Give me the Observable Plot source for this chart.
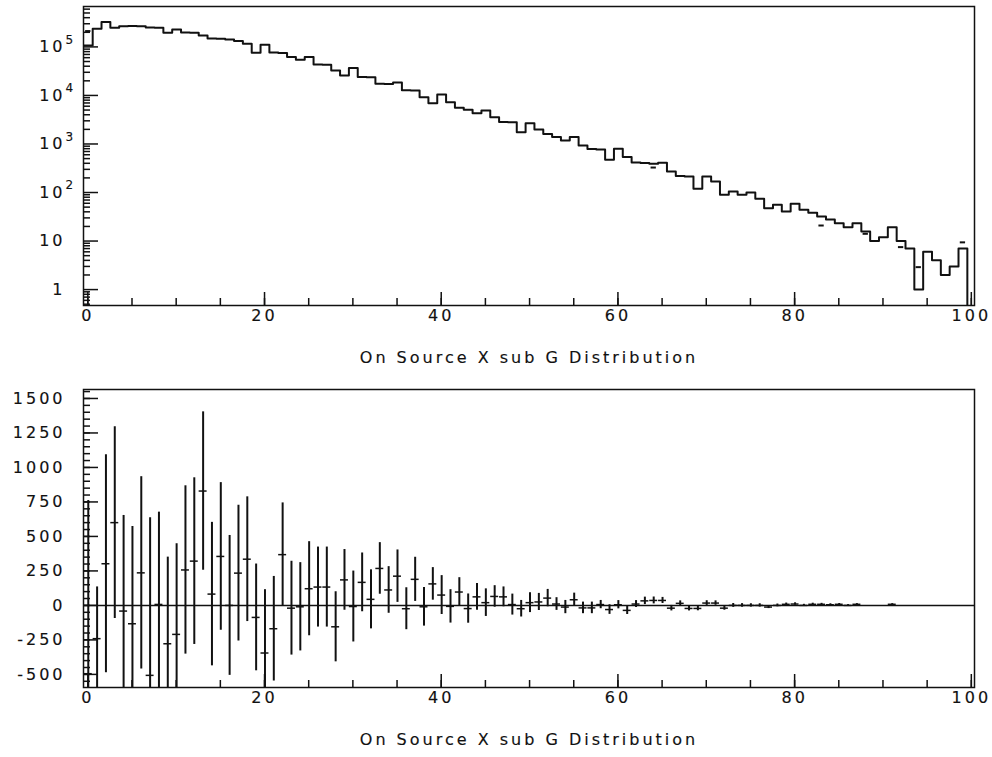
<!DOCTYPE html>
<html><head><meta charset="utf-8">
<script src="https://cdn.jsdelivr.net/npm/d3@7"></script>
<script src="https://cdn.jsdelivr.net/npm/@observablehq/plot@0.6"></script>
<style>
body{margin:0;background:#fff;}
#c{position:relative;width:992px;height:757px;overflow:hidden;}
#c svg{display:block;}
</style></head><body><div id="c"></div>
<script>
// ---------- data ----------
const bins = d3.range(100);
const onCounts = [
 107000,237000,325000,249000,268000,270000,266000,250000,248000,196000,
 229500,197000,195500,172600,149700,147600,142900,133000,116400,75900,
 111000,76500,75300,61700,54400,61700,43200,42700,32750,25840,
 36560,24000,23700,17420,17260,18540,12750,12600,9230,6940,
 10490,7280,5570,5070,4320,4910,3570,2830,2790,1750,
 2685,1991,1607,1394,1181,1394,931,789,771,472,
 796,540,415,406,391,410,271,219,215,119,
 214,169,90,105,90,100,74,47.5,55.7,40.6,
 58.5,44,38.1,32,27.7,23.3,19.3,23.3,15.7,10,
 12,19.3,10,7,1,6,4,2,3,7];
const offMarkBins = [0,64,83,88,92,94,99];
const offMarkVals = [212000,327,20.9,14.1,7.5,2.9,9.4];

const diffBins = [0,1,2,3,4,5,6,7,8,9,10,11,12,13,14,15,16,17,18,19,20,21,22,23,24,25,26,27,28,29,30,31,32,33,34,35,36,37,38,39,40,41,42,43,44,45,46,47,48,49,50,51,52,53,54,55,56,57,58,59,60,61,62,63,64,65,66,67,68,69,70,71,72,73,74,75,76,77,78,79,80,81,82,83,84,85,86,87,91];
const diffVals = [-495,-241,302,600,-41,-133,236,-507,7,-278,-210,257,321,829,82,355,0,234,335,-87,-345,-169,368,-20,-10,121,133,133,-155,185,-8,167,44,268,112,212,-24,189,-10,156,75,-7,97,-23,62,20,65,62,6,-24,20,25,53,10,-12,41,-18,-18,6,-30,5,-36,10,33,36,36,-20,15,-22,-22,17,17,-20,0,0,0,0,-12,0,8,10,0,8,8,5,8,0,8,8];
const diffErrs = [1256,375,790,695,693,705,697,1142,669,628,657,610,604,574,520,535,507,492,452,387,459,379,375,340,320,341,290,290,254,220,257,213,214,187,169,190,152,160,140,118,141,121,104,106,97,100,78,72,76,60,72,62,63,46,48,48,42,42,30,35,30,30,25,27,25,22,20,18,18,17,17,16,15,14,13,12,12,11,10,9,9,8,8,7,7,6,6,5,5];

const xMajor = [0,20,40,60,80,100];
const xMinor = d3.range(0,101,5);
const logMajor = [1,10,100,1000,10000,100000];
const logBase = ["1","10","10","10","10","10"];
const logExp = ["","","2","3","4","5"];
const logMinor = [0.5,0.6,0.7,0.8,0.9].concat(...[1,10,100,1000,10000,100000].map(d => [2,3,4,5,6,7,8,9].map(k => k*d))).filter(v => v < 6.8e5);
const diffMajor = [-500,-250,0,250,500,750,1000,1250,1500];
const diffMinor = d3.range(-550,1551,50);
const axisTitle = "On Source X sub G Distribution";

// ---------- layout ----------
const W = 992, ML = 83, MR = 18;
const frameW = W - ML - MR;
const xDomain = [-0.49, 100.36];
const ink = "#111";
const textStyle = {fontFamily: "DejaVu Sans", fontSize: "16px", letterSpacing: "3px", background: "white", color: ink, overflow: "visible"};
const shift = 0.05;
const txt = {fill: ink, stroke: ink, strokeWidth: 0.15};

function commonMarks(frameH) {
  return [
    Plot.ruleX(xMinor, {x: d => d, insetTop: frameH - 7, stroke: ink, strokeWidth: 1.5}),
    Plot.ruleX(xMajor, {x: d => d, insetTop: frameH - 13, stroke: ink, strokeWidth: 1.5}),
    Plot.text(xMajor, {x: d => d, text: d => String(d), frameAnchor: "bottom", dy: 15, ...txt}),
    Plot.text([axisTitle], {frameAnchor: "bottom", dy: 57, ...txt}),
    Plot.frame({stroke: ink, strokeWidth: 1.5})
  ];
}

// ---------- top panel ----------
const topH = 380, topMT = 6, topMB = 75;
const topFrameH = topH - topMT - topMB;
const stepPts = bins.map(i => ({x: i - 0.5 + shift, y: onCounts[i]}));
stepPts.push({x: 99.5 + shift, y: onCounts[99]});
stepPts.push({x: 99.5 + shift, y: 0.1});

const topPlot = Plot.plot({
  width: W, height: topH,
  marginLeft: ML, marginRight: MR, marginTop: topMT, marginBottom: topMB,
  style: textStyle,
  x: {domain: xDomain, axis: null},
  y: {type: "log", domain: [0.47, 6.8e5], axis: null},
  marks: [
    Plot.line(stepPts, {x: "x", y: "y", curve: "step-after", stroke: ink, strokeWidth: 2, clip: true}),
    Plot.ruleY(offMarkBins, {y: (d, i) => offMarkVals[i], x1: d => d + shift - 0.3, x2: d => d + shift + 0.3, stroke: ink, strokeWidth: 2, clip: true}),
    Plot.ruleY(logMinor, {y: d => d, insetRight: frameW - 7, stroke: ink, strokeWidth: 1.5}),
    Plot.ruleY(logMajor, {y: d => d, insetRight: frameW - 15, stroke: ink, strokeWidth: 1.5}),
    Plot.text(logMajor, {y: d => d, text: (d, i) => logBase[i], frameAnchor: "left", dx: -18, textAnchor: "end", ...txt}),
    Plot.text(logMajor, {y: d => d, text: (d, i) => logExp[i], frameAnchor: "left", dx: -18, dy: -7, textAnchor: "start", fontSize: 12, ...txt}),
    ...commonMarks(topFrameH)
  ]
});

// ---------- bottom panel ----------
const botH = 377, botMT = 9, botMB = 70;
const botFrameH = botH - botMT - botMB;
const botPlot = Plot.plot({
  width: W, height: botH,
  marginLeft: ML, marginRight: MR, marginTop: botMT, marginBottom: botMB,
  style: textStyle,
  x: {domain: xDomain, axis: null},
  y: {domain: [-595, 1565], axis: null},
  marks: [
    Plot.ruleY([0], {stroke: ink, strokeWidth: 1.5}),
    Plot.ruleX(diffBins, {x: d => d + shift, y1: (d, i) => diffVals[i] - diffErrs[i], y2: (d, i) => diffVals[i] + diffErrs[i], stroke: ink, strokeWidth: 2, clip: true}),
    Plot.ruleY(diffBins, {y: (d, i) => diffVals[i], x1: d => d + shift - 0.45, x2: d => d + shift + 0.45, stroke: ink, strokeWidth: 1.5, clip: true}),
    Plot.ruleY(diffMinor, {y: d => d, insetRight: frameW - 7, stroke: ink, strokeWidth: 1.5}),
    Plot.ruleY(diffMajor, {y: d => d, insetRight: frameW - 15, stroke: ink, strokeWidth: 1.5}),
    Plot.text(diffMajor, {y: d => d, text: d => String(d), frameAnchor: "left", dx: -18, textAnchor: "end", ...txt}),
    ...commonMarks(botFrameH)
  ]
});

const c = document.getElementById("c");
c.appendChild(topPlot);
c.appendChild(botPlot);
</script>
</body></html>
